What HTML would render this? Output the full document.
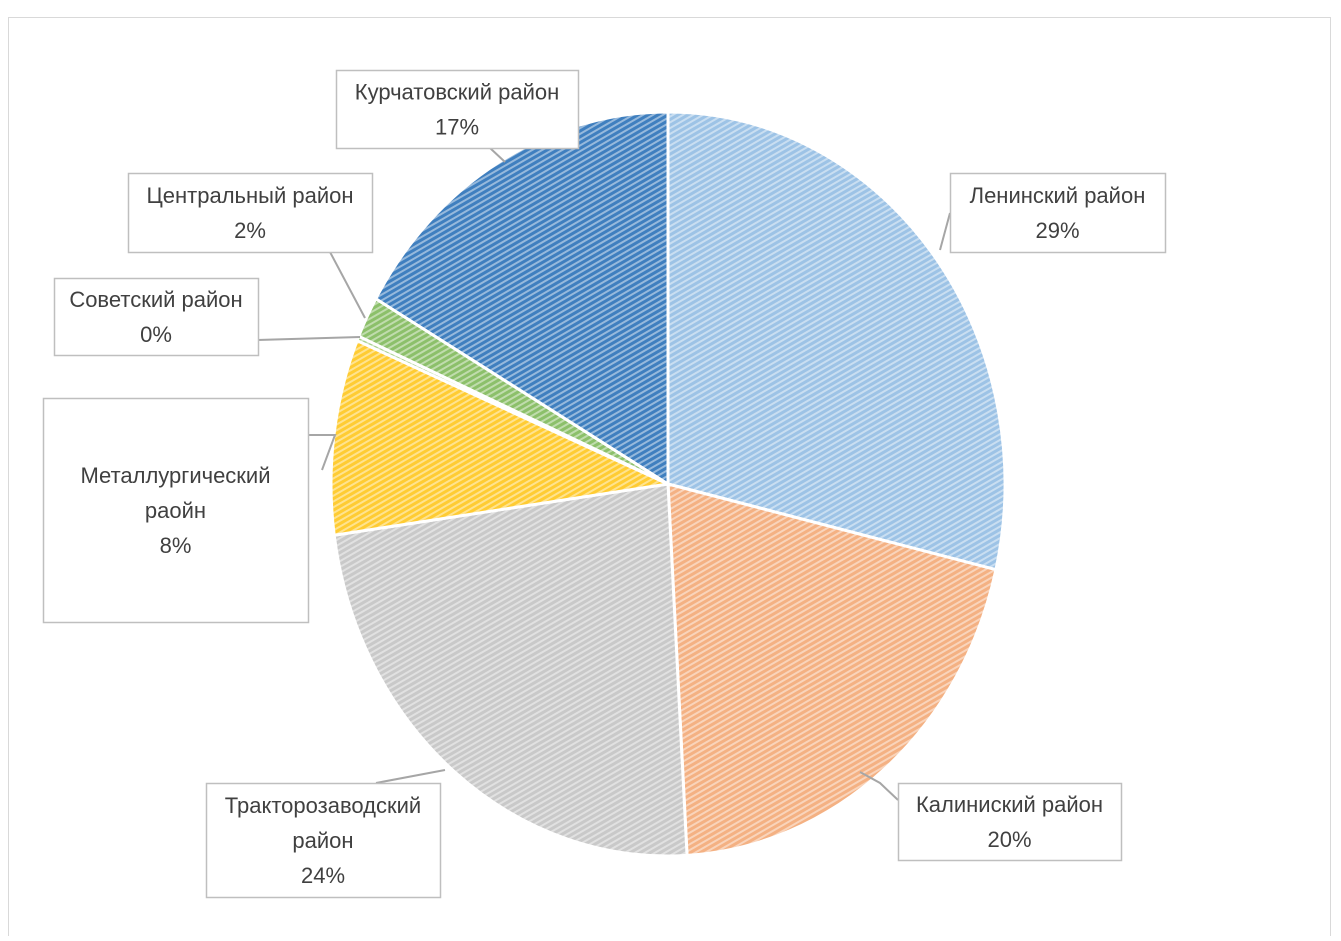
<!DOCTYPE html>
<html><head><meta charset="utf-8"><style>
body{margin:0;background:#fff;width:1341px;height:936px;overflow:hidden}
svg text{font-family:"Liberation Sans","DejaVu Sans",sans-serif;font-size:22px;fill:#404040;text-anchor:middle}
</style></head><body>
<svg width="1341" height="936" xmlns="http://www.w3.org/2000/svg">
<defs id="defs"></defs>
<rect x="8.5" y="17.5" width="1322" height="930" fill="#fff" stroke="#d9d9d9"/>
<g id="slices"></g>
<g id="leaders" stroke="#a6a6a6" stroke-width="2" fill="none">
<polyline points="490,148 505,162"/>
<polyline points="950,213 940,250"/>
<polyline points="330,252 365,318"/>
<polyline points="258,345 258,340 360,337"/>
<polyline points="308,435 335,435 322,470"/>
<polyline points="376,783 445,770"/>
<polyline points="898,800 880,783 860,772"/>
</g>
<g id="labels"></g>
</svg>
<script>
const categories=["Ленинский район","Калиниский район","Тракторозаводский район","Металлургический раойн","Советский район","Центральный район","Курчатовский район"];
const values=[28.7,20.4,23.7,8.5,0.2,1.8,16.7];
const pctLabels=["29%","20%","24%","8%","0%","2%","17%"];
const cols=["#9dc3e6","#f4b183","#c9c9c9","#ffcc33","#a9d18e","#8cc06a","#3f7fbf"];
const NS="http://www.w3.org/2000/svg";
const cx=668,cy=484,rx=337,ry=372;
const defs=document.getElementById('defs'),sl=document.getElementById('slices');
const total=values.reduce((a,b)=>a+b,0);
function pt(f){const a=f*2*Math.PI;return [cx+rx*Math.sin(a),cy-ry*Math.cos(a)];}
let acc=0;
values.forEach((v,i)=>{
 const p=document.createElementNS(NS,'pattern');
 p.setAttribute('id','pat'+i);p.setAttribute('width','5');p.setAttribute('height','5');
 p.setAttribute('patternUnits','userSpaceOnUse');p.setAttribute('patternTransform','rotate(60)');
 p.innerHTML=`<rect width="5" height="5" fill="${cols[i]}"/><rect width="2" height="5" fill="#fff" opacity="0.45"/>`;
 defs.appendChild(p);
 const f0=acc/total,f1=(acc+v)/total;acc+=v;
 const [x0,y0]=pt(f0),[x1,y1]=pt(f1);
 const path=document.createElementNS(NS,'path');
 path.setAttribute('d',`M${cx},${cy}L${x0},${y0}A${rx},${ry} 0 ${f1-f0>0.5?1:0} 1 ${x1},${y1}Z`);
 path.setAttribute('fill',`url(#pat${i})`);path.setAttribute('stroke','#fff');path.setAttribute('stroke-width','3');
 
 
 sl.appendChild(path);
});
const boxes=[[950,173,215,79,["Ленинский район"]],[898,783,223,77,["Калиниский район"]],[206,783,234,114,["Тракторозаводский","район"]],[43,398,265,224,["Металлургический","раойн"]],[54,278,204,77,["Советский район"]],[128,173,244,79,["Центральный район"]],[336,70,242,78,["Курчатовский район"]]];
const lg=document.getElementById('labels');
boxes.forEach((b,i)=>{
 const g=document.createElementNS(NS,'g');
 
 
 const lines=b[4].concat([pctLabels[i]]);
 const midY=b[1]+b[3]/2, start=midY-(lines.length-1)*35/2;
 let s=`<rect x="${b[0]+.5}" y="${b[1]+.5}" width="${b[2]}" height="${b[3]}" fill="#fff" stroke="#bfbfbf" stroke-width="1.5"/>`;
 lines.forEach((t,k)=>{s+=`<text x="${b[0]+b[2]/2}" y="${start+k*35+8}">${t}</text>`;});
 g.innerHTML=s;lg.appendChild(g);
});
</script>
</body></html>
